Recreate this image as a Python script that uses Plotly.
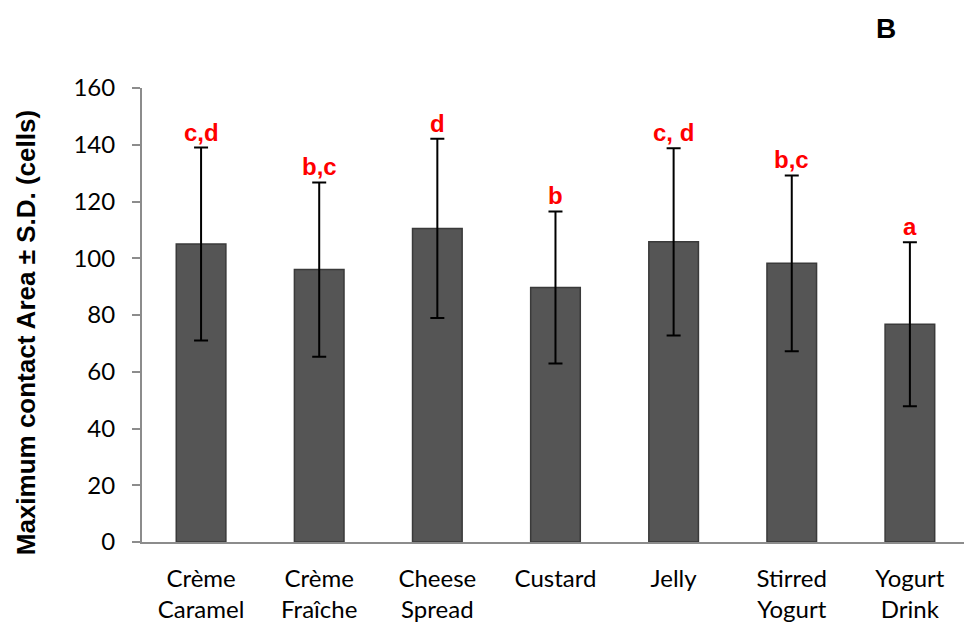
import plotly.graph_objects as go

# Mean maximum contact area per product, with standard deviations
categories = ["Crème<br>Caramel", "Crème<br>Fraîche", "Cheese<br>Spread", "Custard",
              "Jelly", "Stirred<br>Yogurt", "Yogurt<br>Drink"]
means = [105, 96, 110.5, 89.7, 105.8, 98.2, 76.7]
sds = [34.0, 30.7, 31.6, 26.8, 33.0, 31.0, 28.9]
letters = ["c,d", "b,c", "d", "b", "c, d", "b,c", "a"]
y_ticks = [0, 20, 40, 60, 80, 100, 120, 140, 160]

idx = list(range(len(categories)))
label_font = "Lato, Calibri, Carlito, sans-serif"

fig = go.Figure()
fig.add_trace(go.Bar(
    x=idx,
    y=means,
    width=0.42,
    marker=dict(color="#555555", line=dict(color="#3a3a3a", width=1.5)),
    error_y=dict(type="data", array=sds, visible=True,
                 color="black", thickness=2, width=7),
    showlegend=False,
))

# significance letters above each error bar
for i, (m, s, t) in enumerate(zip(means, sds, letters)):
    fig.add_annotation(x=i, y=m + s, text=f"<b>{t}</b>", showarrow=False,
                       yanchor="bottom", yshift=0,
                       font=dict(family="Arial, Liberation Sans", size=24, color="#ff0000"))

# y-axis title
fig.add_annotation(xref="paper", yref="paper", x=-0.141, y=0.46,
                   text="<b>Maximum contact Area ± S.D. (cells)</b>",
                   textangle=-90, showarrow=False, xanchor="center", yanchor="middle",
                   font=dict(family="Arial, Liberation Sans", size=26, color="black"))

# panel letter
fig.add_annotation(xref="paper", yref="paper", x=0.905, y=1.132,
                   text="<b>B</b>", showarrow=False, xanchor="center", yanchor="middle",
                   font=dict(family="Arial, Liberation Sans", size=28, color="black"))

fig.update_layout(
    width=964, height=623,
    margin=dict(l=142, r=0, t=88, b=81),
    plot_bgcolor="white", paper_bgcolor="white",
    font=dict(family=label_font, size=24, color="black"),
)
fig.update_xaxes(
    range=[-0.5, 6.458],
    tickmode="array", tickvals=idx, ticktext=categories,
    showline=True, linecolor="#8c8c8c", linewidth=2,
    ticks="", showgrid=False, zeroline=False,
    tickfont=dict(family=label_font, size=24, color="black"),
    ticklabelstandoff=14,
)
fig.update_yaxes(
    range=[0, 160],
    tickmode="array", tickvals=y_ticks,
    showline=True, linecolor="#8c8c8c", linewidth=2,
    ticks="outside", ticklen=8, tickcolor="#8c8c8c", tickwidth=2,
    showgrid=False, zeroline=False,
    tickfont=dict(family=label_font, size=24, color="black"),
    ticklabelstandoff=12,
)

fig.write_html("out.html")
